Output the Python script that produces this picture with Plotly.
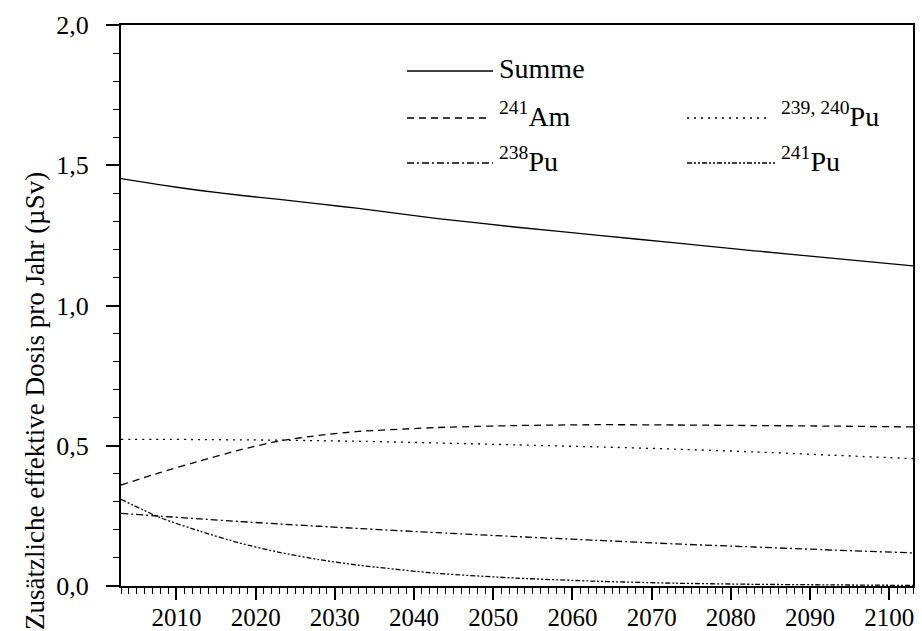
import plotly.graph_objects as go

# Jahre der Stützpunkte
years = [2003, 2008, 2013, 2018, 2023, 2028, 2033, 2043, 2053, 2063, 2073, 2083, 2093, 2103]

# Dosisbeiträge in µSv pro Jahr
summe = [1.452, 1.430, 1.410, 1.393, 1.378, 1.362, 1.346, 1.310, 1.279, 1.251, 1.223, 1.195, 1.168, 1.141]
am241 = [0.360, 0.405, 0.446, 0.485, 0.517, 0.537, 0.551, 0.565, 0.572, 0.575, 0.574, 0.572, 0.570, 0.567]
pu239_240 = [0.523, 0.523, 0.522, 0.521, 0.520, 0.518, 0.516, 0.510, 0.503, 0.496, 0.488, 0.478, 0.466, 0.454]
pu238 = [0.259, 0.249, 0.239, 0.230, 0.221, 0.213, 0.205, 0.190, 0.176, 0.163, 0.150, 0.139, 0.128, 0.118]
pu241 = [0.309, 0.243, 0.195, 0.153, 0.120, 0.094, 0.074, 0.045, 0.028, 0.017, 0.010, 0.006, 0.004, 0.002]

x_ticks = [2010, 2020, 2030, 2040, 2050, 2060, 2070, 2080, 2090, 2100]
y_ticks = [0.0, 0.5, 1.0, 1.5, 2.0]

FONT = "Liberation Serif"
W, H = 922, 631
ML, MR, MT, MB = 121, 9, 25, 45

DASH_AM = "7px,5px"
DASH_PU239 = "2px,5px"
DASH_PU238 = "7px,3px,2px,3px"
DASH_PU241 = "5px,2px,2px,2px,2px,2px"

series = [
    ("Summe", summe, "solid"),
    ("<sup>241</sup>Am", am241, DASH_AM),
    ("<sup>239, 240</sup>Pu", pu239_240, DASH_PU239),
    ("<sup>238</sup>Pu", pu238, DASH_PU238),
    ("<sup>241</sup>Pu", pu241, DASH_PU241),
]

fig = go.Figure()
for name, vals, dash in series:
    fig.add_trace(go.Scatter(
        x=years, y=vals, name=name, mode="lines",
        line=dict(color="black", width=1.3, dash=dash, shape="spline", smoothing=0.6),
        showlegend=False,
    ))


# Pixelpositionen → Papierkoordinaten
def px_x(p):
    return (p - ML) / (W - ML - MR)


def px_y(p):
    return (H - MB - p) / (H - MT - MB)


# Legende aus Linienmustern und Beschriftungen
legend_items = [
    ("Summe", "solid", 407, 493, 71, 497),
    ("<sup>241</sup>Am", DASH_AM, 407, 490, 118, 497),
    ("<sup>238</sup>Pu", DASH_PU238, 407, 493, 163, 497),
    ("<sup>239, 240</sup>Pu", DASH_PU239, 687, 770, 118, 779),
    ("<sup>241</sup>Pu", DASH_PU241, 687, 775, 163, 779),
]
shapes = []
annotations = []
for label, dash, x0, x1, yy, xt in legend_items:
    shapes.append(dict(
        type="line", xref="paper", yref="paper",
        x0=px_x(x0), x1=px_x(x1), y0=px_y(yy), y1=px_y(yy),
        line=dict(color="black", width=1.3, dash=dash),
    ))
    annotations.append(dict(
        xref="paper", yref="paper", x=px_x(xt), y=px_y(yy - 3),
        xanchor="left", yanchor="middle", showarrow=False,
        text=label, font=dict(family=FONT, size=28, color="black"),
    ))

# Achsentitel
annotations.append(dict(
    xref="paper", yref="paper", x=px_x(35), y=px_y(401),
    xanchor="center", yanchor="middle", showarrow=False, textangle=-90,
    text="Zusätzliche effektive Dosis pro Jahr (µSv)",
    font=dict(family=FONT, size=27, color="black"),
))

fig.update_layout(
    width=W, height=H,
    margin=dict(l=ML, r=MR, t=MT, b=MB, autoexpand=False),
    paper_bgcolor="white", plot_bgcolor="white",
    separators=",.",
    font=dict(family=FONT, size=26, color="black"),
    shapes=shapes,
    annotations=annotations,
    xaxis=dict(
        range=[2003, 2103], tickvals=x_ticks, ticks="outside", ticklen=12, tickwidth=1.5,
        tickcolor="black", showline=True, linecolor="black", linewidth=2, mirror=True,
        showgrid=False, zeroline=False, automargin=False, ticklabelstandoff=-4,
        tickfont=dict(family=FONT, size=25),
        minor=dict(dtick=1, tick0=2003, ticks="outside", ticklen=6, tickwidth=1.2,
                   tickcolor="black", showgrid=False),
    ),
    yaxis=dict(
        range=[0, 2.0], tickvals=y_ticks, tickformat=".1f", ticks="outside", ticklen=13,
        tickwidth=1.5, tickcolor="black", showline=True, linecolor="black", linewidth=2,
        mirror=True, showgrid=False, zeroline=False, automargin=False,
        ticklabelstandoff=12,
        tickfont=dict(family=FONT, size=26),
        minor=dict(dtick=0.1, tick0=0, ticks="outside", ticklen=6, tickwidth=1.2,
                   tickcolor="black", showgrid=False),
    ),
    yaxis2=dict(
        overlaying="y", side="right", matches="y", range=[0, 2.0],
        tickvals=y_ticks, ticks="inside", ticklen=5, tickwidth=1.2, tickcolor="black",
        showticklabels=False, showgrid=False, zeroline=False, showline=False,
        automargin=False,
        minor=dict(dtick=0.1, tick0=0, ticks="inside", ticklen=5, tickwidth=1.2,
                   tickcolor="black", showgrid=False),
    ),
)

fig.write_html("out.html")
